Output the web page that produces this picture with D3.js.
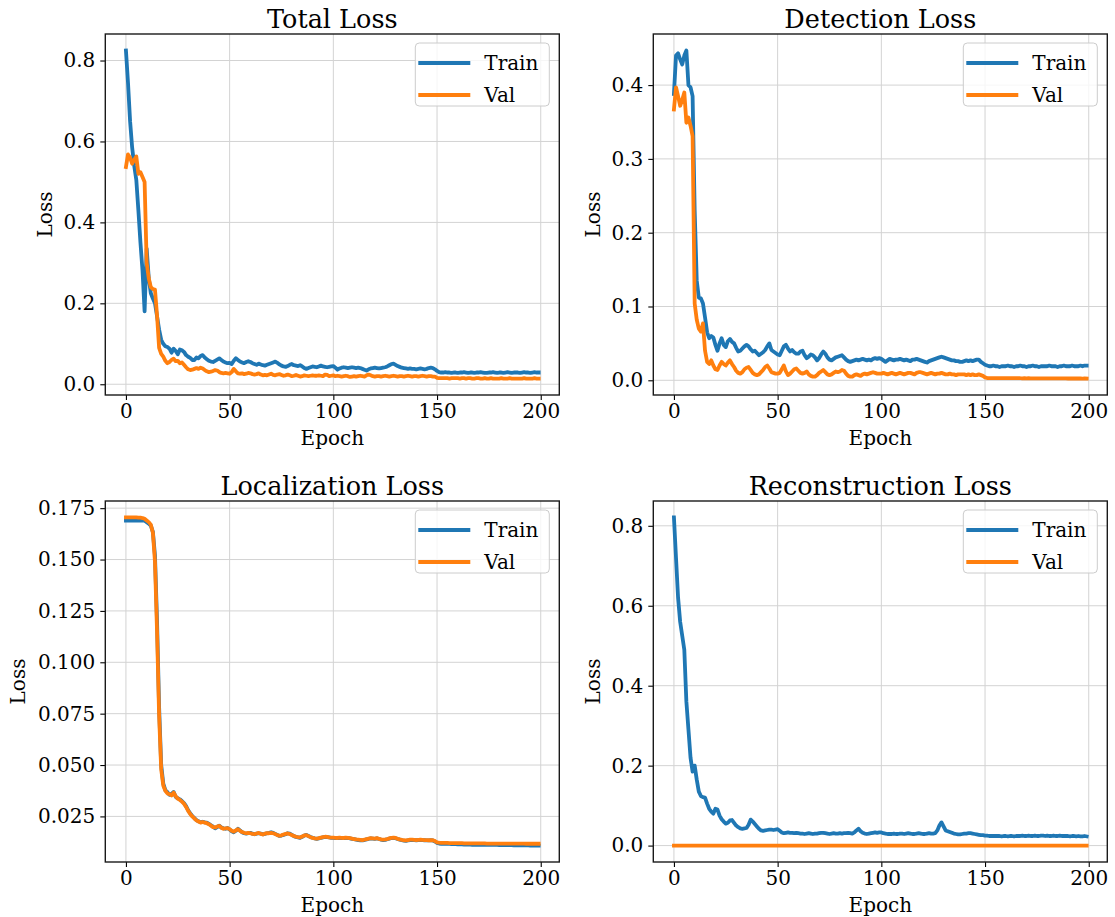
<!DOCTYPE html>
<html>
<head>
<meta charset="utf-8">
<script src="https://cdn.jsdelivr.net/npm/d3@7"></script>
<style>
  body { margin: 0; background: #fff; }
  svg { display: block; }
  text { font-family: "DejaVu Serif", serif; fill: #000; }
</style>
</head>
<body>
<svg id="chart" width="1115" height="917"></svg>
<script>
// ---- training history (one value per epoch, 200 epochs) ----
const epochs = d3.range(200);

const totalTrain = [
  0.825,0.745,0.650,0.585,0.540,0.505,0.430,0.350,0.280,0.180,
  0.335,0.262,0.225,0.212,0.200,0.168,0.135,0.110,0.100,0.094,
  0.092,0.088,0.078,0.088,0.082,0.074,0.086,0.084,0.080,0.072,
  0.068,0.065,0.060,0.060,0.066,0.064,0.070,0.072,0.066,0.062,
  0.058,0.056,0.055,0.058,0.061,0.064,0.060,0.056,0.054,0.052,
  0.053,0.050,0.058,0.064,0.060,0.056,0.054,0.052,0.055,0.057,
  0.055,0.052,0.050,0.048,0.051,0.049,0.047,0.046,0.048,0.050,
  0.052,0.054,0.056,0.053,0.049,0.046,0.044,0.043,0.045,0.048,
  0.050,0.047,0.046,0.045,0.047,0.044,0.040,0.038,0.040,0.042,
  0.044,0.043,0.042,0.044,0.046,0.044,0.043,0.042,0.043,0.044,
  0.045,0.041,0.036,0.039,0.041,0.042,0.041,0.040,0.041,0.042,
  0.041,0.040,0.041,0.040,0.038,0.036,0.034,0.037,0.039,0.040,
  0.041,0.040,0.039,0.040,0.041,0.042,0.044,0.047,0.050,0.051,
  0.048,0.045,0.043,0.041,0.040,0.039,0.038,0.039,0.038,0.038,
  0.037,0.038,0.039,0.038,0.037,0.038,0.040,0.041,0.040,0.037,
  0.033,0.030,0.029,0.029,0.030,0.029,0.029,0.028,0.029,0.029,
  0.028,0.029,0.029,0.030,0.029,0.028,0.029,0.029,0.028,0.029,
  0.029,0.030,0.029,0.028,0.028,0.029,0.029,0.030,0.029,0.028,
  0.029,0.029,0.028,0.029,0.030,0.029,0.028,0.029,0.029,0.029,
  0.028,0.029,0.030,0.029,0.029,0.028,0.029,0.030,0.029,0.029
];
const totalVal = [
  0.537,0.568,0.560,0.545,0.555,0.563,0.520,0.524,0.512,0.500,
  0.300,0.262,0.240,0.235,0.234,0.170,0.090,0.075,0.068,0.058,
  0.052,0.055,0.060,0.063,0.057,0.058,0.052,0.054,0.048,0.042,
  0.037,0.035,0.036,0.038,0.040,0.038,0.041,0.039,0.035,0.032,
  0.030,0.031,0.033,0.035,0.034,0.030,0.028,0.027,0.028,0.027,
  0.026,0.030,0.038,0.032,0.027,0.026,0.027,0.025,0.026,0.028,
  0.027,0.025,0.024,0.025,0.027,0.024,0.022,0.023,0.022,0.024,
  0.026,0.023,0.022,0.024,0.025,0.023,0.021,0.022,0.024,0.022,
  0.020,0.021,0.023,0.021,0.019,0.020,0.022,0.021,0.020,0.021,
  0.022,0.021,0.021,0.022,0.021,0.020,0.024,0.023,0.020,0.021,
  0.022,0.020,0.021,0.020,0.019,0.020,0.021,0.020,0.018,0.019,
  0.020,0.019,0.020,0.021,0.020,0.019,0.022,0.024,0.022,0.020,
  0.019,0.020,0.020,0.019,0.020,0.021,0.020,0.019,0.020,0.021,
  0.020,0.019,0.020,0.020,0.019,0.020,0.021,0.020,0.019,0.020,
  0.020,0.019,0.020,0.021,0.020,0.019,0.020,0.020,0.019,0.019,
  0.016,0.015,0.015,0.015,0.015,0.015,0.014,0.015,0.015,0.015,
  0.015,0.014,0.015,0.015,0.014,0.015,0.015,0.014,0.014,0.015,
  0.015,0.014,0.014,0.015,0.014,0.014,0.015,0.014,0.014,0.014,
  0.014,0.015,0.014,0.014,0.014,0.015,0.014,0.014,0.014,0.014,
  0.014,0.014,0.015,0.014,0.014,0.014,0.014,0.015,0.014,0.014
];

const detectionTrain = [
  0.388,0.440,0.443,0.435,0.428,0.440,0.447,0.400,0.397,0.385,
  0.230,0.135,0.112,0.111,0.104,0.085,0.065,0.057,0.060,0.058,
  0.048,0.040,0.050,0.057,0.048,0.045,0.053,0.056,0.052,0.050,
  0.044,0.039,0.040,0.043,0.046,0.048,0.046,0.042,0.039,0.040,
  0.037,0.034,0.036,0.038,0.041,0.046,0.050,0.041,0.039,0.037,
  0.035,0.034,0.040,0.046,0.048,0.043,0.039,0.041,0.038,0.036,
  0.036,0.039,0.040,0.034,0.030,0.032,0.035,0.034,0.031,0.027,
  0.030,0.035,0.039,0.036,0.031,0.028,0.027,0.029,0.031,0.032,
  0.033,0.034,0.031,0.028,0.026,0.025,0.026,0.027,0.028,0.027,
  0.028,0.029,0.028,0.027,0.028,0.027,0.029,0.030,0.029,0.030,
  0.029,0.027,0.025,0.027,0.029,0.028,0.027,0.028,0.028,0.029,
  0.028,0.027,0.028,0.027,0.026,0.028,0.028,0.029,0.028,0.027,
  0.026,0.025,0.024,0.026,0.027,0.028,0.029,0.030,0.031,0.032,
  0.031,0.030,0.029,0.028,0.027,0.027,0.026,0.026,0.025,0.025,
  0.026,0.027,0.026,0.027,0.026,0.027,0.028,0.028,0.025,0.023,
  0.021,0.020,0.019,0.019,0.020,0.019,0.019,0.018,0.019,0.019,
  0.019,0.020,0.019,0.019,0.018,0.019,0.019,0.020,0.019,0.019,
  0.018,0.019,0.019,0.020,0.019,0.019,0.018,0.019,0.019,0.019,
  0.019,0.020,0.019,0.019,0.019,0.018,0.019,0.019,0.020,0.019,
  0.019,0.019,0.020,0.019,0.019,0.019,0.020,0.019,0.020,0.020
];
const detectionVal = [
  0.367,0.397,0.385,0.372,0.380,0.390,0.349,0.356,0.345,0.331,
  0.104,0.082,0.070,0.066,0.077,0.040,0.025,0.022,0.027,0.020,
  0.015,0.014,0.020,0.025,0.022,0.020,0.024,0.027,0.022,0.018,
  0.013,0.010,0.009,0.011,0.015,0.017,0.018,0.014,0.010,0.008,
  0.007,0.008,0.011,0.014,0.018,0.020,0.016,0.011,0.010,0.009,
  0.009,0.010,0.015,0.020,0.012,0.007,0.009,0.012,0.015,0.016,
  0.013,0.010,0.009,0.010,0.012,0.008,0.006,0.005,0.005,0.007,
  0.010,0.012,0.014,0.011,0.008,0.007,0.008,0.010,0.012,0.011,
  0.012,0.014,0.013,0.009,0.006,0.005,0.005,0.007,0.008,0.007,
  0.006,0.008,0.009,0.008,0.009,0.010,0.011,0.010,0.009,0.009,
  0.009,0.010,0.009,0.008,0.009,0.010,0.009,0.008,0.009,0.010,
  0.009,0.008,0.009,0.010,0.010,0.009,0.008,0.010,0.011,0.011,
  0.010,0.009,0.008,0.009,0.010,0.009,0.008,0.009,0.009,0.010,
  0.009,0.008,0.008,0.009,0.008,0.008,0.007,0.008,0.008,0.008,
  0.008,0.007,0.008,0.007,0.008,0.007,0.007,0.008,0.007,0.006,
  0.004,0.003,0.003,0.003,0.003,0.003,0.003,0.003,0.003,0.003,
  0.003,0.003,0.0028,0.003,0.0028,0.0028,0.003,0.0028,0.0027,0.0028,
  0.0027,0.0028,0.0027,0.0026,0.0027,0.0027,0.0026,0.0027,0.0026,0.0026,
  0.0026,0.0025,0.0026,0.0026,0.0025,0.0025,0.0026,0.0025,0.0025,0.0025,
  0.0024,0.0025,0.0024,0.0024,0.0025,0.0024,0.0024,0.0023,0.0024,0.0023
];

const localizationTrain = [
  0.1690,0.1690,0.1690,0.1690,0.1690,0.1690,0.1690,0.1690,0.1690,0.1689,
  0.1682,0.1675,0.1665,0.1635,0.1520,0.1200,0.0780,0.0500,0.0410,0.0378,
  0.0368,0.0355,0.0360,0.0369,0.0345,0.0338,0.0333,0.0325,0.0315,0.0300,
  0.0280,0.0265,0.0252,0.0242,0.0232,0.0226,0.0222,0.0224,0.0221,0.0220,
  0.0214,0.0207,0.0200,0.0192,0.0198,0.0205,0.0196,0.0192,0.0190,0.0194,
  0.0186,0.0178,0.0173,0.0180,0.0190,0.0182,0.0173,0.0168,0.0166,0.0168,
  0.0170,0.0166,0.0163,0.0166,0.0168,0.0166,0.0163,0.0165,0.0168,0.0170,
  0.0173,0.0170,0.0165,0.0160,0.0155,0.0157,0.0160,0.0163,0.0168,0.0166,
  0.0160,0.0154,0.0150,0.0148,0.0146,0.0151,0.0157,0.0160,0.0155,0.0150,
  0.0146,0.0143,0.0141,0.0143,0.0146,0.0148,0.0150,0.0149,0.0148,0.0146,
  0.0146,0.0145,0.0144,0.0146,0.0145,0.0144,0.0146,0.0145,0.0143,0.0141,
  0.0139,0.0137,0.0135,0.0134,0.0133,0.0135,0.0138,0.0141,0.0143,0.0142,
  0.0141,0.0143,0.0140,0.0137,0.0135,0.0136,0.0139,0.0142,0.0145,0.0146,
  0.0144,0.0140,0.0137,0.0134,0.0132,0.0131,0.0133,0.0135,0.0136,0.0135,
  0.0134,0.0135,0.0136,0.0135,0.0134,0.0133,0.0133,0.0134,0.0133,0.0128,
  0.0121,0.0118,0.0117,0.0117,0.0116,0.0116,0.0116,0.0115,0.0115,0.0115,
  0.0114,0.0114,0.0114,0.0113,0.0113,0.0113,0.0113,0.0112,0.0112,0.0112,
  0.0112,0.0112,0.0112,0.0111,0.0111,0.0111,0.0111,0.0111,0.0111,0.0111,
  0.0110,0.0110,0.0110,0.0110,0.0110,0.0110,0.0110,0.0109,0.0109,0.0109,
  0.0109,0.0109,0.0109,0.0109,0.0109,0.0108,0.0108,0.0108,0.0108,0.0108
];
const localizationVal = [
  0.1705,0.1705,0.1705,0.1705,0.1705,0.1705,0.1704,0.1704,0.1702,0.1698,
  0.1690,0.1682,0.1670,0.1630,0.1490,0.1150,0.0740,0.0480,0.0400,0.0375,
  0.0362,0.0358,0.0352,0.0366,0.0348,0.0336,0.0330,0.0322,0.0312,0.0296,
  0.0277,0.0262,0.0250,0.0240,0.0231,0.0225,0.0220,0.0223,0.0220,0.0217,
  0.0212,0.0205,0.0198,0.0196,0.0201,0.0204,0.0195,0.0190,0.0192,0.0193,
  0.0188,0.0180,0.0176,0.0182,0.0188,0.0180,0.0174,0.0170,0.0168,0.0170,
  0.0168,0.0165,0.0164,0.0167,0.0170,0.0165,0.0162,0.0166,0.0169,0.0168,
  0.0170,0.0168,0.0164,0.0159,0.0156,0.0158,0.0162,0.0165,0.0167,0.0164,
  0.0159,0.0155,0.0151,0.0149,0.0148,0.0152,0.0158,0.0159,0.0154,0.0149,
  0.0145,0.0143,0.0142,0.0144,0.0147,0.0149,0.0151,0.0150,0.0148,0.0147,
  0.0147,0.0146,0.0145,0.0147,0.0146,0.0145,0.0147,0.0146,0.0144,0.0142,
  0.0140,0.0138,0.0137,0.0136,0.0135,0.0137,0.0139,0.0142,0.0144,0.0143,
  0.0142,0.0144,0.0141,0.0138,0.0137,0.0138,0.0140,0.0143,0.0146,0.0147,
  0.0145,0.0141,0.0138,0.0136,0.0134,0.0133,0.0135,0.0137,0.0137,0.0136,
  0.0135,0.0136,0.0137,0.0136,0.0135,0.0135,0.0134,0.0135,0.0134,0.0130,
  0.0124,0.0122,0.0121,0.0121,0.0121,0.0121,0.0120,0.0120,0.0120,0.0120,
  0.0120,0.0120,0.0120,0.0119,0.0119,0.0119,0.0119,0.0119,0.0119,0.0119,
  0.0119,0.0119,0.0119,0.0119,0.0118,0.0118,0.0118,0.0118,0.0118,0.0118,
  0.0118,0.0118,0.0118,0.0118,0.0118,0.0118,0.0118,0.0118,0.0118,0.0118,
  0.0118,0.0118,0.0118,0.0117,0.0117,0.0118,0.0117,0.0117,0.0117,0.0117
];

const reconstructionTrain = [
  0.821,0.720,0.620,0.560,0.525,0.490,0.360,0.290,0.220,0.185,
  0.200,0.165,0.135,0.124,0.121,0.120,0.105,0.092,0.085,0.080,
  0.092,0.090,0.075,0.066,0.060,0.055,0.057,0.063,0.064,0.057,
  0.050,0.046,0.043,0.042,0.043,0.044,0.052,0.065,0.060,0.054,
  0.048,0.042,0.038,0.037,0.038,0.039,0.040,0.040,0.039,0.040,
  0.041,0.037,0.033,0.031,0.032,0.033,0.032,0.032,0.031,0.032,
  0.031,0.030,0.030,0.029,0.030,0.031,0.030,0.029,0.030,0.030,
  0.031,0.032,0.032,0.031,0.030,0.029,0.030,0.031,0.030,0.030,
  0.031,0.030,0.031,0.031,0.032,0.031,0.030,0.033,0.038,0.042,
  0.036,0.032,0.030,0.029,0.030,0.031,0.032,0.033,0.032,0.033,
  0.033,0.031,0.030,0.029,0.029,0.029,0.030,0.029,0.029,0.030,
  0.030,0.029,0.030,0.031,0.030,0.029,0.029,0.030,0.031,0.030,
  0.029,0.029,0.030,0.031,0.030,0.030,0.031,0.038,0.050,0.058,
  0.048,0.038,0.036,0.034,0.032,0.030,0.029,0.028,0.028,0.029,
  0.030,0.030,0.031,0.031,0.030,0.029,0.028,0.027,0.026,0.026,
  0.025,0.025,0.024,0.024,0.024,0.024,0.024,0.024,0.023,0.024,
  0.024,0.023,0.024,0.024,0.023,0.024,0.024,0.024,0.025,0.024,
  0.024,0.025,0.024,0.024,0.025,0.024,0.024,0.025,0.025,0.024,
  0.025,0.024,0.024,0.025,0.024,0.024,0.025,0.024,0.024,0.024,
  0.024,0.023,0.024,0.024,0.023,0.024,0.023,0.023,0.024,0.023
];
const reconstructionVal = [
  0,0,0,0,0,0,0,0,0,0, 0,0,0,0,0,0,0,0,0,0,
  0,0,0,0,0,0,0,0,0,0, 0,0,0,0,0,0,0,0,0,0,
  0,0,0,0,0,0,0,0,0,0, 0,0,0,0,0,0,0,0,0,0,
  0,0,0,0,0,0,0,0,0,0, 0,0,0,0,0,0,0,0,0,0,
  0,0,0,0,0,0,0,0,0,0, 0,0,0,0,0,0,0,0,0,0,
  0,0,0,0,0,0,0,0,0,0, 0,0,0,0,0,0,0,0,0,0,
  0,0,0,0,0,0,0,0,0,0, 0,0,0,0,0,0,0,0,0,0,
  0,0,0,0,0,0,0,0,0,0, 0,0,0,0,0,0,0,0,0,0,
  0,0,0,0,0,0,0,0,0,0, 0,0,0,0,0,0,0,0,0,0,
  0,0,0,0,0,0,0,0,0,0, 0,0,0,0,0,0,0,0,0,0
];

// ---- axis ticks ----
const xTicks = [0, 50, 100, 150, 200];
const yTicksTotal = [0.0, 0.2, 0.4, 0.6, 0.8];
const yTicksDetection = [0.0, 0.1, 0.2, 0.3, 0.4];
const yTicksLocalization = [0.025, 0.050, 0.075, 0.100, 0.125, 0.150, 0.175];
const yTicksReconstruction = [0.0, 0.2, 0.4, 0.6, 0.8];

const seriesNames = ["Train", "Val"];
const colors = ["#1f77b4", "#ff7f0e"];

// ---- panel layout ----
const panels = [
  { title: "Total Loss", train: totalTrain, val: totalVal, yTicks: yTicksTotal, fmt: d3.format(".1f"),
    left: 105.3, top: 34, yLabelX: 52 },
  { title: "Detection Loss", train: detectionTrain, val: detectionVal, yTicks: yTicksDetection, fmt: d3.format(".1f"),
    left: 653.3, top: 34, yLabelX: 600 },
  { title: "Localization Loss", train: localizationTrain, val: localizationVal, yTicks: yTicksLocalization, fmt: d3.format(".3f"),
    left: 105.3, top: 501, yLabelX: 25 },
  { title: "Reconstruction Loss", train: reconstructionTrain, val: reconstructionVal, yTicks: yTicksReconstruction, fmt: d3.format(".1f"),
    left: 653.3, top: 501, yLabelX: 600 }
];
const panelW = 454, panelH = 361;

const svg = d3.select("#chart");

panels.forEach(p => {
  const g = svg.append("g").attr("transform", `translate(${p.left},${p.top})`);

  const x = d3.scaleLinear().domain([-9.95, 208.95]).range([0, panelW]);
  const all = p.train.concat(p.val);
  const lo = d3.min(all), hi = d3.max(all), pad = (hi - lo) * 0.05;
  const y = d3.scaleLinear().domain([lo - pad, hi + pad]).range([panelH, 0]);

  // grid
  g.append("g").selectAll("line").data(xTicks).join("line")
    .attr("x1", d => x(d)).attr("x2", d => x(d)).attr("y1", 0).attr("y2", panelH)
    .attr("stroke", "#d3d3d3").attr("stroke-width", 1);
  g.append("g").selectAll("line").data(p.yTicks).join("line")
    .attr("x1", 0).attr("x2", panelW).attr("y1", d => y(d)).attr("y2", d => y(d))
    .attr("stroke", "#d3d3d3").attr("stroke-width", 1);

  // loss curves
  const line = d3.line().x((d, i) => x(epochs[i])).y(d => y(d));
  [p.train, p.val].forEach((s, k) => {
    g.append("path").datum(s)
      .attr("fill", "none").attr("stroke", colors[k]).attr("stroke-width", 3.8)
      .attr("stroke-linejoin", "round").attr("stroke-linecap", "square")
      .attr("d", line);
  });

  // axes
  const xAxis = g.append("g").attr("transform", `translate(0,${panelH})`)
    .call(d3.axisBottom(x).tickValues(xTicks).tickFormat(d3.format("d")).tickSize(5).tickPadding(4));
  const yAxis = g.append("g")
    .call(d3.axisLeft(y).tickValues(p.yTicks).tickFormat(p.fmt).tickSize(5).tickPadding(5));
  [xAxis, yAxis].forEach(a => {
    a.select(".domain").remove();
    a.selectAll(".tick line").attr("stroke", "#000").attr("stroke-width", 1.1);
    a.selectAll(".tick text").attr("font-family", "DejaVu Serif").attr("font-size", 20).attr("fill", "#000");
  });

  // frame
  g.append("rect").attr("width", panelW).attr("height", panelH)
    .attr("fill", "none").attr("stroke", "#1a1a1a").attr("stroke-width", 1.4);

  // title and axis labels
  g.append("text").attr("x", panelW / 2).attr("y", -6).attr("text-anchor", "middle")
    .attr("font-size", 25.5).text(p.title);
  g.append("text").attr("x", panelW / 2).attr("y", panelH + 50).attr("text-anchor", "middle")
    .attr("font-size", 20).text("Epoch");
  svg.append("text")
    .attr("transform", `translate(${p.yLabelX},${p.top + panelH / 2}) rotate(-90)`)
    .attr("text-anchor", "middle").attr("font-size", 20).text("Loss");

  // legend
  const lg = g.append("g").attr("transform", `translate(${panelW - 144},9)`);
  lg.append("rect").attr("width", 134).attr("height", 63).attr("rx", 4)
    .attr("fill", "#fff").attr("fill-opacity", 0.8).attr("stroke", "#cccccc").attr("stroke-width", 1);
  seriesNames.forEach((name, k) => {
    const yy = 20 + k * 32;
    lg.append("line").attr("x1", 3).attr("x2", 55).attr("y1", yy).attr("y2", yy)
      .attr("stroke", colors[k]).attr("stroke-width", 3.8);
    lg.append("text").attr("x", 69).attr("y", yy + 7).attr("font-size", 20).text(name);
  });
});
</script>
</body>
</html>
